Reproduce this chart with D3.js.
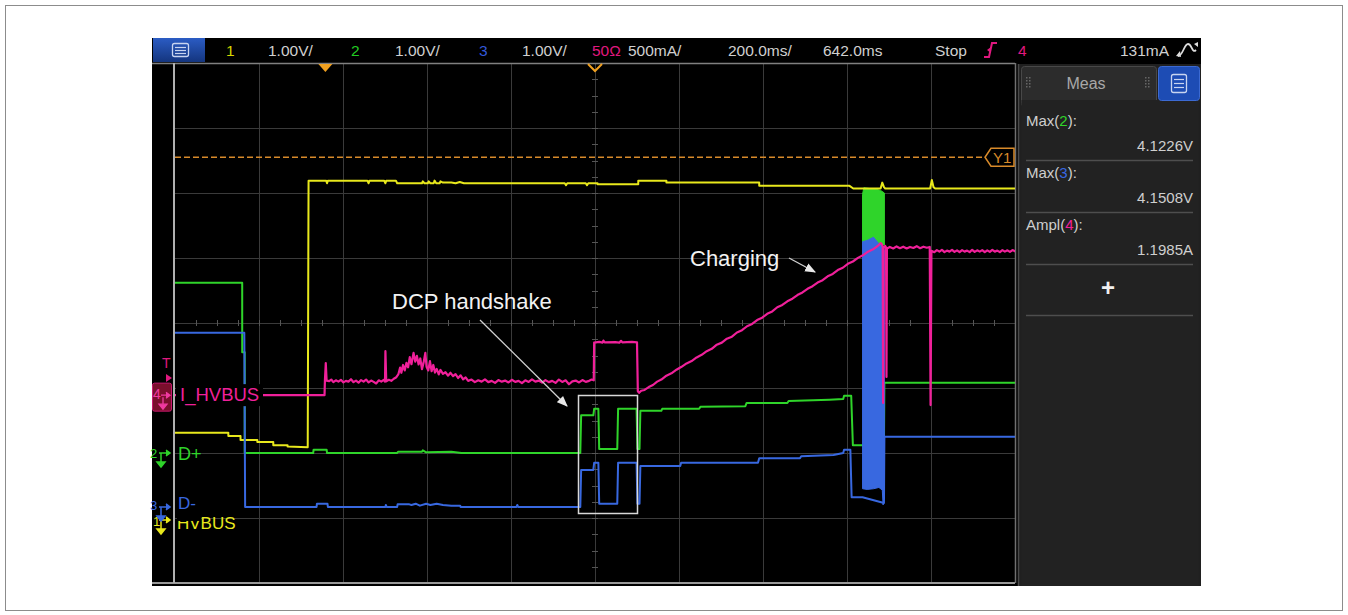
<!DOCTYPE html>
<html><head><meta charset="utf-8">
<script src="https://cdn.jsdelivr.net/npm/d3@7"></script>
<style>html,body{margin:0;padding:0;background:#fff;} svg{display:block;font-family:"Liberation Sans",Arial,sans-serif;}</style>
</head><body><svg id="c" width="1348" height="615"></svg>
<script>
// ---------------- scope settings ----------------
const timePerDiv = 200;          // ms / div
const delayMs = 642;             // time at screen centre
const chScale = {1: 1, 2: 1, 3: 1, 4: 500};          // V/div, V/div, V/div, mA/div
const chOffsetDiv = {1: -3.03, 2: -2.0, 3: -2.83, 4: -1.11}; // ground level (div from centre)
const trigLevel = 131;           // mA on ch4
const cursorY1 = 5.58;           // V on ch1

// ---------------- header / labels ----------------
const headerTexts = ["1", "1.00V/", "2", "1.00V/", "3", "1.00V/", "50Ω", "500mA/", "200.0ms/", "642.0ms", "Stop", "4", "131mA"];
const headerColors = ["#d6d600", "#d0d0d0", "#22cc22", "#d0d0d0", "#3358d8", "#d0d0d0", "#e0187f", "#d0d0d0", "#d0d0d0", "#d0d0d0", "#d0d0d0", "#e0187f", "#d0d0d0"];
const chLabels = ["HVBUS", "D+", "D-", "I_HVBUS"];
const measNames = ["Max", "Max", "Ampl"];
const measCh = ["2", "3", "4"];
const measValues = ["4.1226V", "4.1508V", "1.1985A"];
const annotations = ["DCP handshake", "Charging"];

// ---------------- traces [time ms, value] ----------------
const ch1HVBUS = [[-358,1.34],[-231,1.34],[-231,1.29],[-202,1.29],[-202,1.23],[-162,1.23],[-162,1.20],[-124,1.20],[-124,1.15],[-90,1.15],[-90,1.13],[-42,1.12],[-40,5.22],[2,5.22],[4,5.18],[6,5.22],[100,5.22],[103,5.18],[105,5.22],[140,5.22],[143,5.18],[145,5.22],[168,5.22],[171,5.18],[230,5.18],[232,5.21],[236,5.18],[244,5.18],[246,5.21],[250,5.18],[258,5.18],[260,5.22],[264,5.18],[272,5.18],[274,5.21],[280,5.19],[300,5.19],[310,5.18],[320,5.20],[330,5.18],[570,5.18],[573,5.15],[576,5.18],[620,5.18],[623,5.15],[626,5.18],[648,5.18],[648,5.165],[745,5.165],[745,5.22],[812,5.22],[812,5.19],[1033,5.19],[1033,5.14],[1248,5.14],[1257,5.10],[1322,5.10],[1326,5.19],[1330,5.12],[1333,5.10],[1440,5.10],[1444,5.23],[1448,5.12],[1452,5.10],[1643,5.10]];

const ch2Dplus = [[-358,2.62],[-198,2.62],[-198,1.55],[-192,1.55],[-192,0],[-29,0],[-28,0.05],[3,0.05],[4,0],[171,0],[173,0.02],[230,0.02],[232,0.04],[240,0.01],[300,0.02],[324,0],[607,0],[609,0.58],[638,0.58],[640,0.68],[650,0.68],[652,0.06],[695,0.06],[697,0.68],[741,0.68],[743,0.06],[748,0.06],[750,0.65],[800,0.65],[802,0.68],[890,0.68],[893,0.71],[1000,0.72],[1003,0.77],[1100,0.77],[1103,0.80],[1200,0.82],[1233,0.83],[1235,0.88],[1252,0.88],[1256,0.12],[1279,0.12],[1330,0.12],[1331,1.08],[1643,1.08]];
// fast burst envelope [time, min, max]
const ch2Burst = [[1279,3.2,3.98],[1282,3.2,4.08],[1295,3.2,4.07],[1310,3.2,4.06],[1322,3.2,4.04],[1331,3.2,4.0]];

const ch3Dminus = [[-358,2.68],[-193,2.68],[-191,0],[-21,0],[-20,0.05],[5,0.05],[6,0],[143,0],[144,0.03],[146,0],[171,0],[172,0.04],[200,0.04],[205,0.03],[215,0.05],[225,0.02],[240,0.05],[250,0.03],[265,0.05],[280,0.03],[300,0.02],[321,0.02],[322,0],[455,0],[457,0.03],[459,0],[607,0],[609,0.57],[638,0.57],[640,0.68],[650,0.68],[652,0.05],[695,0.05],[697,0.68],[741,0.68],[743,0.05],[748,0.05],[750,0.63],[845,0.63],[847,0.68],[1030,0.68],[1033,0.75],[1130,0.75],[1133,0.78],[1210,0.80],[1233,0.83],[1235,0.88],[1250,0.88],[1253,0.15],[1279,0.15],[1330,0.06],[1331,1.08],[1643,1.08]];
const ch3Burst = [[1279,0.28,4.08],[1290,0.27,4.10],[1305,0.28,4.15],[1318,0.30,4.05],[1326,0.26,4.02],[1328,0.03,4.0],[1331,0.25,3.95]];

const ch4IHVBUS = [[-358,0],[-2,0],[-1,118],[1,246],[3,112],[9,108],[14,120],[19,100],[25,114],[31,104],[37,118],[43,98],[49,110],[55,104],[61,122],[67,100],[73,112],[79,96],[85,116],[91,104],[97,120],[103,98],[109,112],[115,102],[121,90],[127,114],[133,104],[139,118],[142,104],[143,338],[145,106],[151,118],[157,110],[163,126],[169,138],[174,162],[178,212],[181,172],[185,232],[189,190],[193,248],[197,214],[201,292],[205,238],[210,325],[214,258],[218,302],[222,236],[226,282],[230,200],[234,252],[238,325],[241,218],[245,190],[249,262],[253,184],[257,232],[261,174],[265,202],[270,160],[274,194],[280,164],[286,176],[292,150],[298,172],[304,146],[310,162],[316,132],[322,152],[328,122],[334,136],[340,110],[348,120],[356,100],[364,114],[372,104],[380,122],[388,100],[396,110],[404,94],[412,116],[420,104],[428,112],[436,98],[444,118],[452,102],[460,110],[468,92],[476,114],[484,102],[492,122],[500,104],[508,112],[516,96],[524,116],[532,100],[540,110],[548,94],[556,120],[564,102],[572,114],[580,84],[588,106],[596,112],[604,98],[612,116],[620,102],[628,110],[634,120],[639,114],[640,404],[652,410],[660,404],[662,420],[665,406],[690,408],[700,404],[704,418],[707,406],[730,410],[742,406],[744,30],[747,18],[752,34],[760,40],[770,62],[780,78],[790,104],[800,120],[812,150],[824,168],[836,196],[848,218],[860,244],[872,262],[884,290],[896,310],[908,338],[920,356],[932,388],[944,404],[956,434],[968,450],[980,482],[992,500],[1004,530],[1016,548],[1028,578],[1040,596],[1052,626],[1064,644],[1076,676],[1088,694],[1100,722],[1112,742],[1124,770],[1136,790],[1148,818],[1160,838],[1172,866],[1184,884],[1196,914],[1208,932],[1220,962],[1232,980],[1244,1010],[1256,1028],[1268,1056],[1280,1076],[1292,1104],[1304,1122],[1316,1150],[1322,1170],[1325,1160],[1327,1140],[1328,-60],[1329,1130],[1333,1148],[1335,1136],[1336,140],[1337,1128],[1344,1140],[1352,1128],[1360,1144],[1368,1130],[1376,1142],[1384,1128],[1392,1140],[1400,1132],[1408,1146],[1416,1130],[1424,1142],[1432,1134],[1439,1140],[1441,-76],[1443,1110],[1450,1100],[1456,1116],[1462,1104],[1468,1118],[1474,1100],[1480,1112],[1486,1104],[1492,1118],[1498,1102],[1504,1114],[1510,1100],[1516,1116],[1522,1104],[1528,1112],[1534,1100],[1540,1118],[1546,1102],[1552,1114],[1558,1104],[1564,1116],[1570,1100],[1576,1114],[1582,1102],[1588,1118],[1594,1104],[1600,1112],[1606,1100],[1612,1116],[1618,1104],[1624,1114],[1630,1102],[1636,1116],[1643,1106]];

const chColor = {1: "#e8e81c", 2: "#2fd42a", 3: "#3868e0", 4: "#f0209a"};

// ---------------- drawing ----------------
const svg = d3.select("#c");
const defs = svg.append("defs");
const L = 175, R = 1015, T = 63, B = 583;

svg.append("rect").attr("x", 5.5).attr("y", 5.5).attr("width", 1337).attr("height", 605)
  .attr("fill", "none").attr("stroke", "#8c8c8c").attr("stroke-width", 1);
svg.append("rect").attr("x", 152).attr("y", 38).attr("width", 1049).attr("height", 548).attr("fill", "#000");

const x = d3.scaleLinear().domain([delayMs - 5 * timePerDiv, delayMs + 5 * timePerDiv]).range([L, R]);
const yd = d3.scaleLinear().domain([-4, 4]).range([B, T]);
const yCh = ch => v => yd(chOffsetDiv[ch] + v / chScale[ch]);

// grid
const grid = svg.append("g");
d3.range(1, 10).forEach(k => {
  const xx = Math.round(x(x.domain()[0] + k * timePerDiv)) + 0.5;
  grid.append("line").attr("x1", xx).attr("x2", xx).attr("y1", T).attr("y2", B).attr("stroke", "#3a3a3a");
});
d3.range(-3, 4).forEach(k => {
  const yy = Math.round(yd(k)) + 0.5;
  grid.append("line").attr("x1", L).attr("x2", R).attr("y1", yy).attr("y2", yy).attr("stroke", "#3a3a3a");
});
// minor ticks on centre lines
d3.range(1, 40).forEach(s => {
  const xx = Math.round(x(x.domain()[0] + s * timePerDiv / 4)) + 0.5;
  grid.append("line").attr("x1", xx).attr("x2", xx).attr("y1", yd(0) - 3).attr("y2", yd(0) + 3).attr("stroke", "#555");
});
d3.range(1, 32).forEach(s => {
  const yy = Math.round(yd(-4 + s / 4)) + 0.5;
  grid.append("line").attr("x1", x(delayMs) - 3).attr("x2", x(delayMs) + 3).attr("y1", yy).attr("y2", yy).attr("stroke", "#555");
});
// frame
svg.append("line").attr("x1", 152).attr("x2", R).attr("y1", T + 0.5).attr("y2", T + 0.5).attr("stroke", "#808080").attr("stroke-width", 1.5);
svg.append("line").attr("x1", 152).attr("x2", R).attr("y1", B).attr("y2", B).attr("stroke", "#9a9a9a").attr("stroke-width", 2);
svg.append("line").attr("x1", L - 1).attr("x2", L - 1).attr("y1", T).attr("y2", B).attr("stroke", "#b0b0b0").attr("stroke-width", 2);
svg.append("line").attr("x1", R + 0.5).attr("x2", R + 0.5).attr("y1", T).attr("y2", B).attr("stroke", "#707070").attr("stroke-width", 1.5);

// cursor Y1
const yY1 = yCh(1)(cursorY1);
svg.append("line").attr("x1", L).attr("x2", 985).attr("y1", yY1).attr("y2", yY1)
  .attr("stroke", "#d88a2a").attr("stroke-width", 1.5).attr("stroke-dasharray", "6,3");
svg.append("path").attr("d", `M985,${yY1} L991,${yY1 - 9} L1014,${yY1 - 9} L1014,${yY1 + 9} L991,${yY1 + 9} Z`)
  .attr("fill", "#000").attr("stroke", "#d88a2a").attr("stroke-width", 1.5);
svg.append("text").attr("x", 993).attr("y", yY1 + 6).attr("fill", "#d88a2a").attr("font-size", 15).text("Y1");

// traces
defs.append("clipPath").attr("id", "plot").append("rect").attr("x", L).attr("y", T).attr("width", R - L).attr("height", B - T);
const tr = svg.append("g").attr("clip-path", "url(#plot)");
function trace(data, ch, w) {
  const y = yCh(ch);
  tr.append("path").datum(data).attr("fill", "none").attr("stroke", chColor[ch]).attr("stroke-width", w || 2)
    .attr("stroke-linejoin", "round").attr("d", d3.line().x(d => x(d[0])).y(d => y(d[1])));
}
function burst(data, ch) {
  const y = yCh(ch);
  tr.append("path").datum(data).attr("fill", chColor[ch]).attr("stroke", chColor[ch]).attr("stroke-width", 1)
    .attr("d", d3.area().x(d => x(d[0])).y0(d => y(d[1])).y1(d => y(d[2])));
}
trace(ch2Dplus, 2);
burst(ch2Burst, 2);
trace(ch1HVBUS, 1);
trace(ch3Dminus, 3);
burst(ch3Burst, 3);
trace(ch4IHVBUS, 4, 2.2);

// top markers: trigger point (t=0) and delay reference
svg.append("path").attr("d", `M${x(0) - 7},${T + 1} L${x(0) + 7},${T + 1} L${x(0)},${T + 9} Z`).attr("fill", "#f0a020");
svg.append("path").attr("d", `M${x(delayMs) - 7},${T + 1} L${x(delayMs)},${T + 8} L${x(delayMs) + 7},${T + 1}`)
  .attr("fill", "none").attr("stroke", "#f0a020").attr("stroke-width", 2);

// ---------- header bar ----------
const hdr = svg.append("g").attr("font-size", 15.5);
const grad = defs.append("linearGradient").attr("id", "btn").attr("x1", 0).attr("x2", 0).attr("y1", 0).attr("y2", 1);
grad.append("stop").attr("offset", "0").attr("stop-color", "#2b5cc4");
grad.append("stop").attr("offset", "1").attr("stop-color", "#14357e");
svg.append("rect").attr("x", 153).attr("y", 38).attr("width", 52).attr("height", 24).attr("fill", "url(#btn)");
svg.append("rect").attr("x", 172.5).attr("y", 43.5).attr("width", 16).attr("height", 13).attr("rx", 2).attr("fill", "none").attr("stroke", "#c8d4f0").attr("stroke-width", 1.3);
[47.5, 50.5, 53.5].forEach(yy => svg.append("line").attr("x1", 175).attr("x2", 186).attr("y1", yy).attr("y2", yy).attr("stroke", "#c8d4f0").attr("stroke-width", 1.2));
const headerX = [226, 268, 351, 395, 479, 522, 592, 628, 728, 823, 935, 1018, 1120];
headerTexts.forEach((t, i) => hdr.append("text").attr("x", headerX[i]).attr("y", 56).attr("fill", headerColors[i]).text(t));
// trigger edge symbol
svg.append("path").attr("d", "M984,57 L989,57 L992,43 L997,43").attr("fill", "none").attr("stroke", "#e0187f").attr("stroke-width", 2);
svg.append("path").attr("d", "M987,50 L991,47 L991,53 Z").attr("fill", "#e0187f");
// acquisition icon
svg.append("path").attr("d", "M1178,56 C1183,56 1184,44 1188,44 C1192,44 1192,54 1196,50").attr("fill", "none").attr("stroke", "#ddd").attr("stroke-width", 1.8);
svg.append("path").attr("d", "M1180,51 L1176,56 L1181,57 Z M1194,44 L1198,42 L1198,47 Z").attr("fill", "#ddd");

// ---------- left channel markers ----------
const yT = yCh(4)(trigLevel);
svg.append("text").attr("x", 162).attr("y", yT - 10).attr("fill", "#e0187f").attr("font-size", 14).text("T");
svg.append("path").attr("d", `M166,${yT - 4} L172,${yT} L166,${yT + 4} Z`).attr("fill", "#e0187f");
const g4 = yCh(4)(0);
svg.append("rect").attr("x", 152.5).attr("y", g4 - 12).attr("width", 19).attr("height", 28).attr("rx", 2).attr("fill", "#7a0f2c").attr("stroke", "#c8186e");
svg.append("text").attr("x", 153).attr("y", g4 + 4).attr("fill", "#f03aa0").attr("font-size", 14).text("4");
svg.append("path").attr("d", `M161,${g4} L170,${g4} M166,${g4 - 3} L170,${g4} L166,${g4 + 3} M163,${g4 + 2} L163,${g4 + 9} M159,${g4 + 9} L167,${g4 + 9} L163,${g4 + 14} Z`).attr("fill", "#f03aa0").attr("stroke", "#f03aa0").attr("stroke-width", 1.3);

function gndMarker(ch, tx, dy, col) {
  const g0 = yCh(ch)(0);
  svg.append("text").attr("x", tx).attr("y", g0 + dy).attr("fill", col).attr("font-size", 13).text(String(ch));
  svg.append("path").attr("d", `M159,${g0} L170,${g0} M166,${g0 - 3} L170,${g0} L166,${g0 + 3} M161,${g0} L161,${g0 + 9} M157,${g0 + 9} L165,${g0 + 9} L161,${g0 + 14} Z`)
    .attr("fill", col).attr("stroke", col).attr("stroke-width", 1.5);
}
gndMarker(2, 150, 5, chColor[2]);
gndMarker(1, 153, 6, chColor[1]);
gndMarker(3, 150, 3, chColor[3]);

// channel labels
const lab = svg.append("g").attr("font-size", 17);
lab.append("text").attr("x", 177).attr("y", yCh(1)(0) + 9).attr("fill", chColor[1]).text(chLabels[0]);
lab.append("rect").attr("x", 177).attr("y", yCh(3)(0) - 10).attr("width", 24).attr("height", 24).attr("fill", "#000");
lab.append("text").attr("x", 178).attr("y", yCh(3)(0) + 2).attr("fill", chColor[3]).text(chLabels[2]);
lab.append("text").attr("x", 178).attr("y", yCh(2)(0) + 7).attr("fill", chColor[2]).attr("font-size", 18).text(chLabels[1]);
lab.append("rect").attr("x", 176).attr("y", g4 - 11).attr("width", 87).attr("height", 22).attr("fill", "#000");
lab.append("text").attr("x", 180).attr("y", g4 + 6).attr("fill", chColor[4]).attr("font-size", 18.5).text(chLabels[3]);

// ---------- annotations ----------
const mk = defs.append("marker").attr("id", "ah").attr("viewBox", "0 0 10 10").attr("refX", 9).attr("refY", 5)
  .attr("markerWidth", 11).attr("markerHeight", 11).attr("markerUnits", "userSpaceOnUse").attr("orient", "auto");
mk.append("path").attr("d", "M0,1 L10,5 L0,9 Z").attr("fill", "#e8e8e8");
svg.append("rect").attr("x", 578.5).attr("y", 395.5).attr("width", 59).attr("height", 118).attr("fill", "none").attr("stroke", "#d8d8d8").attr("stroke-width", 1.5);
svg.append("line").attr("x1", 480).attr("y1", 320).attr("x2", 567).attr("y2", 406).attr("stroke", "#d0d0d0").attr("stroke-width", 1.3).attr("marker-end", "url(#ah)");
svg.append("text").attr("x", 392).attr("y", 309).attr("fill", "#f2f2f2").attr("font-size", 22).text(annotations[0]);
svg.append("text").attr("x", 690).attr("y", 266).attr("fill", "#f2f2f2").attr("font-size", 22).text(annotations[1]);
svg.append("line").attr("x1", 789).attr("y1", 258).attr("x2", 815).attr("y2", 272).attr("stroke", "#d0d0d0").attr("stroke-width", 1.3).attr("marker-end", "url(#ah)");

// ---------- measurement panel ----------
const P = svg.append("g");
P.append("rect").attr("x", 1018).attr("y", 64).attr("width", 183).attr("height", 522).attr("fill", "#202020");
P.append("line").attr("x1", 1018.5).attr("x2", 1018.5).attr("y1", 64).attr("y2", 586).attr("stroke", "#4a4a4a").attr("stroke-width", 1.5);
P.append("rect").attr("x", 1021.5).attr("y", 66.5).attr("width", 135).attr("height", 40).attr("rx", 3).attr("fill", "#2c2c2c").attr("stroke", "#484848");
P.append("rect").attr("x", 1021.5).attr("y", 100).attr("width", 177).attr("height", 486).attr("fill", "#222");
P.append("rect").attr("x", 1158.5).attr("y", 66.5).attr("width", 41).attr("height", 34).attr("rx", 3).attr("fill", "#1d4cb4").attr("stroke", "#3c6ad2");
P.append("rect").attr("x", 1171.5).attr("y", 74.5).attr("width", 15).attr("height", 18).attr("rx", 2).attr("fill", "none").attr("stroke", "#c8d4f0").attr("stroke-width", 1.3);
[79.5, 83.5, 87.5].forEach(yy => P.append("line").attr("x1", 1174).attr("x2", 1184).attr("y1", yy).attr("y2", yy).attr("stroke", "#c8d4f0").attr("stroke-width", 1.2));
[1026, 1145].forEach(gx => d3.range(0, 4).forEach(r => [0, 3].forEach(c =>
  P.append("rect").attr("x", gx + c).attr("y", 77 + r * 3).attr("width", 1.5).attr("height", 1.5).attr("fill", "#666"))));
P.append("text").attr("x", 1086).attr("y", 89).attr("text-anchor", "middle").attr("fill", "#a8a8a8").attr("font-size", 16).text("Meas");
measNames.forEach((n, i) => {
  const y0 = 126 + i * 52;
  const t = P.append("text").attr("x", 1026).attr("y", y0).attr("font-size", 15).attr("fill", "#cfcfcf");
  t.append("tspan").text(n + "(");
  t.append("tspan").attr("fill", chColor[+measCh[i]]).text(measCh[i]);
  t.append("tspan").text("):");
  P.append("text").attr("x", 1193).attr("y", y0 + 25).attr("text-anchor", "end").attr("font-size", 15).attr("fill", "#cfcfcf").text(measValues[i]);
  P.append("line").attr("x1", 1026).attr("x2", 1193).attr("y1", y0 + 34.5).attr("y2", y0 + 34.5).attr("stroke", "#4e4e4e").attr("stroke-width", 1.5);
});
P.append("text").attr("x", 1108).attr("y", 296).attr("text-anchor", "middle").attr("font-size", 24).attr("font-weight", "bold").attr("fill", "#f0f0f0").text("+");
P.append("line").attr("x1", 1026).attr("x2", 1193).attr("y1", 315.5).attr("y2", 315.5).attr("stroke", "#4e4e4e").attr("stroke-width", 1.5);
</script></body></html>
